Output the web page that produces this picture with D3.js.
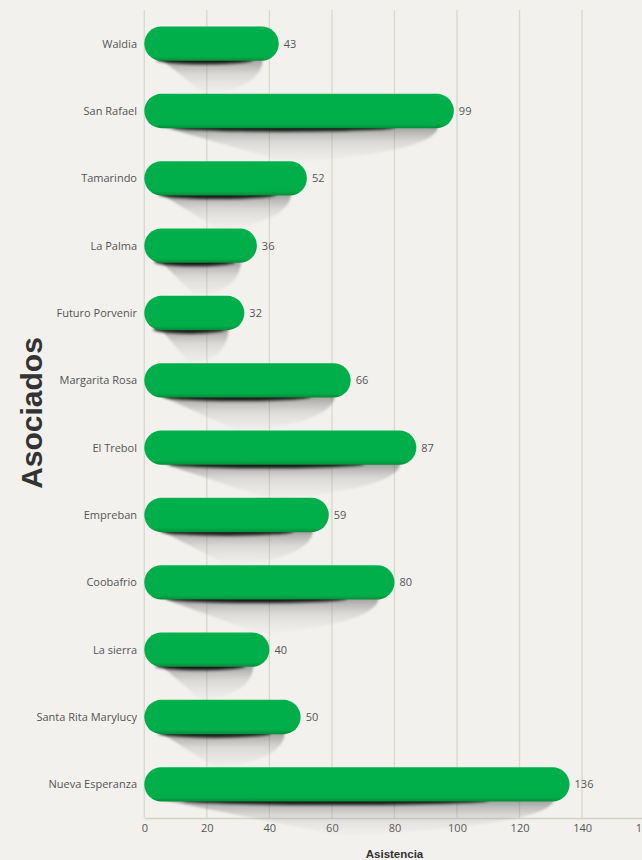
<!DOCTYPE html>
<html>
<head>
<meta charset="utf-8">
<script src="https://cdn.jsdelivr.net/npm/d3@7"></script>
<style>
  body { margin: 0; background: #f2f1ee; }
  svg { display: block; }
</style>
</head>
<body>
<script>
// data
const categories = ["Waldia", "San Rafael", "Tamarindo", "La Palma", "Futuro Porvenir", "Margarita Rosa",
  "El Trebol", "Empreban", "Coobafrio", "La sierra", "Santa Rita Marylucy", "Nueva Esperanza"];
const asistencia = [43, 99, 52, 36, 32, 66, 87, 59, 80, 40, 50, 136];
const xTicks = [0, 20, 40, 60, 80, 100, 120, 140, 160];

const data = categories.map((c, i) => ({ name: c, value: asistencia[i] }));

const w = 642, h = 860;
const svg = d3.select("body").append("svg").attr("width", w).attr("height", h);

svg.append("rect").attr("width", w).attr("height", h).attr("fill", "#f2f1ee");

const x = d3.scaleLinear().domain([0, 160]).range([144.3, 644.6]);
const y = d3.scaleBand().domain(categories).range([10, 818]).paddingInner(0.49).paddingOuter(0.245);

const defs = svg.append("defs");
const sg = defs.append("linearGradient").attr("id", "shadowGrad")
  .attr("x1", 0).attr("y1", 0).attr("x2", 0).attr("y2", 1);
sg.append("stop").attr("offset", "0%").attr("stop-color", "#444").attr("stop-opacity", 0.5);
sg.append("stop").attr("offset", "45%").attr("stop-color", "#888").attr("stop-opacity", 0.22);
sg.append("stop").attr("offset", "100%").attr("stop-color", "#bbb").attr("stop-opacity", 0.04);

defs.append("filter").attr("id", "blur").attr("x", "-20%").attr("y", "-50%").attr("width", "140%").attr("height", "200%")
  .append("feGaussianBlur").attr("stdDeviation", 1);
defs.append("filter").attr("id", "blur2").attr("x", "-20%").attr("y", "-100%").attr("width", "140%").attr("height", "300%")
  .append("feGaussianBlur").attr("stdDeviation", 1.6);

const bg = defs.append("linearGradient").attr("id", "barGrad")
  .attr("x1", 0).attr("y1", 0).attr("x2", 0).attr("y2", 1);
bg.append("stop").attr("offset", "0%").attr("stop-color", "#00b04b");
bg.append("stop").attr("offset", "88%").attr("stop-color", "#00ad49");
bg.append("stop").attr("offset", "100%").attr("stop-color", "#008c3a");

// gridlines
svg.append("g").selectAll("line")
  .data(xTicks)
  .enter()
  .append("line")
  .attr("x1", d => x(d)).attr("x2", d => x(d))
  .attr("y1", 10).attr("y2", 818)
  .attr("stroke", "#dbd7cd")
  .attr("stroke-width", 1.3);

// x axis
const xAxis = svg.append("g").attr("transform", "translate(0,818)")
  .call(d3.axisBottom(x).tickValues(xTicks).tickSize(0).tickPadding(6));
xAxis.select(".domain").attr("stroke", "#d6d2c8").attr("stroke-width", 1.3);
xAxis.selectAll("text").attr("font-family", "Open Sans").attr("font-size", "11px").attr("fill", "#555");

// shadows
const shadows = svg.append("g");
data.forEach(d => {
  const x0 = x(0), x1 = x(d.value), wd = x1 - x0;
  const b = y(d.name) + y.bandwidth();
  const tip = x0 + wd * 0.46;
  shadows.append("path")
    .attr("d", `M${x0 + 16},${b - 2} L${x1 - 16},${b - 2} C${x1 - 16},${b + 18} ${tip + wd * 0.25},${b + 30} ${tip},${b + 34} Z`)
    .attr("fill", "url(#shadowGrad)")
    .attr("filter", "url(#blur)");
  shadows.append("ellipse")
    .attr("cx", x0 + wd * 0.45).attr("cy", b - 1)
    .attr("rx", wd * 0.36).attr("ry", 4.5)
    .attr("fill", "#000").attr("opacity", 0.85)
    .attr("filter", "url(#blur2)");
});

// bars
svg.append("g").selectAll("rect")
  .data(data)
  .enter()
  .append("rect")
  .attr("x", x(0))
  .attr("y", d => y(d.name))
  .attr("width", d => x(d.value) - x(0))
  .attr("height", y.bandwidth())
  .attr("rx", y.bandwidth() / 2)
  .attr("fill", "url(#barGrad)");

// value labels
svg.append("g").selectAll("text")
  .data(data)
  .enter()
  .append("text")
  .text(d => d.value)
  .attr("x", d => x(d.value) + 5)
  .attr("y", d => y(d.name) + y.bandwidth() / 2)
  .attr("dy", "0.35em")
  .attr("font-family", "Open Sans")
  .attr("font-size", "11px")
  .attr("fill", "#555");

// category labels
svg.append("g").selectAll("text")
  .data(data)
  .enter()
  .append("text")
  .text(d => d.name)
  .attr("x", 137)
  .attr("y", d => y(d.name) + y.bandwidth() / 2)
  .attr("dy", "0.35em")
  .attr("text-anchor", "end")
  .attr("font-family", "Open Sans")
  .attr("font-size", "11px")
  .attr("fill", "#555");

// axis titles
svg.append("text")
  .text("Asistencia")
  .attr("x", 394.5).attr("y", 858)
  .attr("text-anchor", "middle")
  .attr("font-family", "Liberation Sans, Arial, sans-serif")
  .attr("font-weight", "bold")
  .attr("font-size", "11.5px")
  .attr("fill", "#333");

svg.append("text")
  .text("Asociados")
  .attr("transform", "translate(42,413) rotate(-90)")
  .attr("text-anchor", "middle")
  .attr("font-family", "Liberation Sans, Arial, sans-serif")
  .attr("font-weight", "bold")
  .attr("font-size", "30px")
  .attr("fill", "#333");
</script>
</body>
</html>
